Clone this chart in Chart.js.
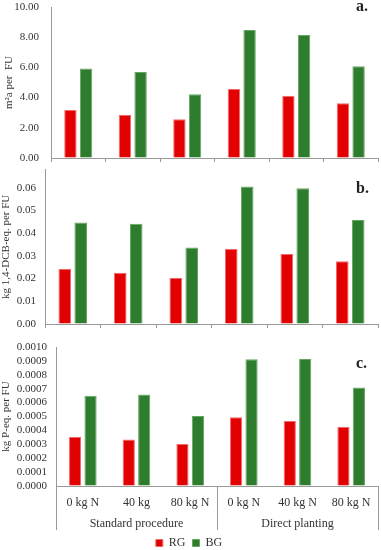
<!DOCTYPE html>
<html>
<head>
<meta charset="utf-8">
<script src="https://cdn.jsdelivr.net/npm/chart.js@4.4.1/dist/chart.umd.min.js"></script>
<style>
  html, body { margin: 0; padding: 0; background: #fff; }
  body { width: 381px; height: 550px; position: relative; overflow: hidden; }
  .panel { position: absolute; left: 0; width: 381px; }
  .tag { position: absolute; left: 356px; font: bold 16px "Liberation Serif", serif; line-height: 16px; color: #222; }
</style>
</head>
<body>
<div class="panel" style="top:0;height:165px"><canvas id="chartA"></canvas></div>
<div class="panel" style="top:163px;height:168px"><canvas id="chartB"></canvas></div>
<div class="panel" style="top:335px;height:224px"><canvas id="chartC"></canvas></div>
<div class="tag" style="top:-2px">a.</div>
<div class="tag" style="top:180px">b.</div>
<div class="tag" style="top:355px">c.</div>
<script>
const categories = ["0 kg N", "40 kg", "80 kg N", "0 kg N", "40 kg N", "80 kg N"];
const groups = ["Standard procedure", "Direct planting"];
const groupSizes = [3, 3];
const seriesNames = ["RG", "BG"];

const landRG = [3.18, 2.87, 2.56, 4.57, 4.13, 3.62];
const landBG = [5.92, 5.70, 4.22, 8.48, 8.15, 6.07];

const toxRG = [0.0242, 0.0226, 0.0203, 0.0330, 0.0308, 0.0276];
const toxBG = [0.0447, 0.0441, 0.0337, 0.0606, 0.0598, 0.0458];

const eutRG = [0.000353, 0.000334, 0.000302, 0.000494, 0.000468, 0.000427];
const eutBG = [0.000650, 0.000658, 0.000504, 0.000911, 0.000914, 0.000708];

const RED = "#e20000";
const RED_EDGE = "#f06a6a";
const GREEN = "#2e7d2e";
const GREEN_EDGE = "#64a660";
const AXIS = "#9a9a9a";

Chart.defaults.font.family = "'Liberation Serif', serif";
Chart.defaults.color = "#333";
Chart.defaults.animation = false;

function datasets(rg, bg) {
  return [
    { label: seriesNames[0], data: rg, backgroundColor: RED, borderColor: RED_EDGE, borderWidth: 1 },
    { label: seriesNames[1], data: bg, backgroundColor: GREEN, borderColor: GREEN_EDGE, borderWidth: 1 }
  ];
}

// long separators between the two groups of the bottom axis
const groupLines = {
  id: "groupLines",
  afterDraw(chart) {
    const x = chart.scales.x;
    const g = chart.scales.x2;
    if (!g) return;
    const edges = [-0.5];
    let acc = -0.5;
    groupSizes.forEach(n => { acc += n; edges.push(acc); });
    const ctx = chart.ctx;
    ctx.save();
    ctx.strokeStyle = AXIS;
    ctx.lineWidth = 1;
    edges.forEach(v => {
      const px = Math.round(x.getPixelForValue(v)) + 0.5;
      ctx.beginPath();
      ctx.moveTo(px, x.top);
      ctx.lineTo(px, g.bottom);
      ctx.stroke();
    });
    ctx.restore();
  }
};

// label gap comes from an invisible tick length, so the tick padding
// does not push the plot area away from the canvas edges
function yAxis(cfg) {
  return {
    min: 0,
    max: cfg.max,
    afterFit: s => { s.width = cfg.width; },
    grid: { display: true, drawOnChartArea: false, drawTicks: true, tickLength: cfg.gap, color: "rgba(0,0,0,0)" },
    border: { display: true, color: AXIS },
    title: { display: true, text: cfg.title, font: { size: 11 }, color: "#333", padding: { top: cfg.titlePad, bottom: 0 } },
    ticks: {
      stepSize: cfg.step,
      includeBounds: false,
      autoSkip: false,
      padding: 0,
      font: { size: 11 },
      color: "#333",
      callback: v => cfg.fmt(v)
    }
  };
}

function smallChart(id, rg, bg, cfg) {
  return new Chart(document.getElementById(id), {
    type: "bar",
    data: { labels: categories, datasets: datasets(rg, bg) },
    options: {
      responsive: true,
      maintainAspectRatio: false,
      layout: { padding: { top: cfg.top, right: 3, bottom: 0, left: 0 } },
      datasets: { bar: { categoryPercentage: 0.575, barPercentage: 0.79 } },
      plugins: { legend: { display: false }, tooltip: { enabled: false } },
      scales: {
        x: {
          afterFit: s => { s.height = 7; },
          grid: { display: true, drawOnChartArea: false, drawTicks: true, tickLength: 4, color: AXIS, offset: true },
          border: { display: true, color: AXIS },
          ticks: { display: false }
        },
        y: yAxis(cfg)
      }
    }
  });
}

smallChart("chartA", landRG, landBG, {
  top: 7, width: 51, max: 10, step: 2, gap: 12, titlePad: 3,
  title: "m\u00b2a per  FU",
  fmt: v => v.toFixed(2)
});

smallChart("chartB", toxRG, toxBG, {
  top: 6, width: 45, max: 0.068, step: 0.01, gap: 9, titlePad: 0,
  title: "kg 1,4-DCB-eq. per FU",
  fmt: v => (Math.abs(v * 100 - Math.round(v * 100)) < 1e-6 ? v.toFixed(2) : "")
});

new Chart(document.getElementById("chartC"), {
  type: "bar",
  data: { labels: categories, datasets: datasets(eutRG, eutBG) },
  plugins: [groupLines],
  options: {
    responsive: true,
    maintainAspectRatio: false,
    layout: { padding: { top: 12, right: 3, bottom: 0, left: 0 } },
    datasets: { bar: { categoryPercentage: 0.575, barPercentage: 0.79 } },
    plugins: {
      tooltip: { enabled: false },
      legend: {
        position: "bottom",
        labels: { boxWidth: 7, boxHeight: 7, padding: 7, font: { size: 12 }, color: "#333" }
      }
    },
    scales: {
      x: {
        weight: 0,
        afterFit: s => { s.height = 23; },
        grid: { display: false, drawTicks: false },
        border: { display: true, color: AXIS },
        ticks: { padding: 9.5, font: { size: 12 }, color: "#333", maxRotation: 0, autoSkip: false }
      },
      x2: {
        type: "category",
        labels: groups,
        position: "bottom",
        offset: true,
        weight: 1,
        afterFit: s => { s.height = 21; },
        grid: { display: false, drawTicks: false },
        border: { display: false },
        ticks: { padding: 7.5, font: { size: 12 }, color: "#333", maxRotation: 0, autoSkip: false }
      },
      y: yAxis({
        width: 56, max: 0.001, step: 0.0001, gap: 9, titlePad: 0,
        title: "kg P-eq. per FU",
        fmt: v => v.toFixed(4)
      })
    }
  }
});
</script>
</body>
</html>
